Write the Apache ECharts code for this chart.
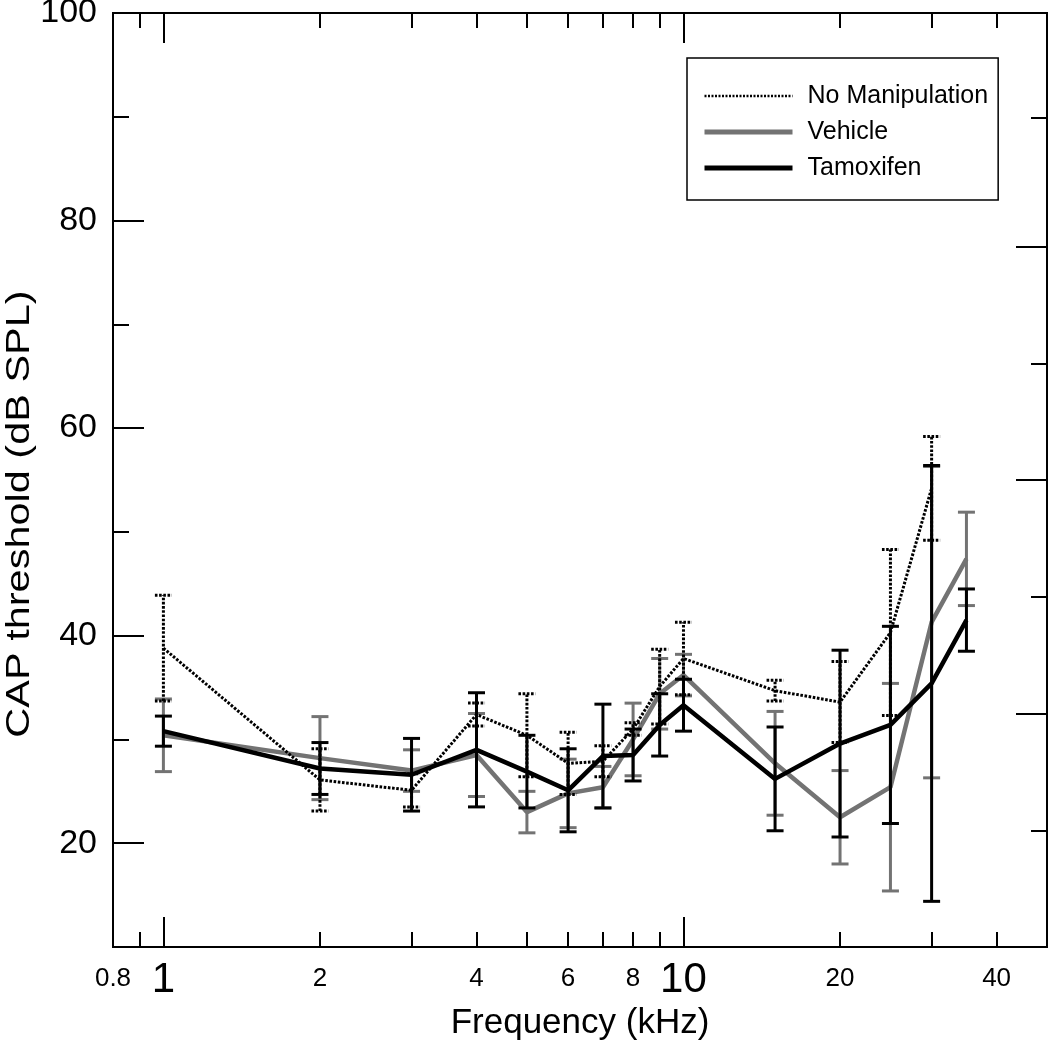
<!DOCTYPE html>
<html>
<head>
<meta charset="utf-8">
<script src="https://cdn.jsdelivr.net/npm/echarts@6/dist/echarts.min.js"></script>
<style>
html,body{margin:0;padding:0;background:#fff;}
#chart{width:1050px;height:1041px;}
</style>
</head>
<body>
<div id="chart"></div>
<script>
// ---- data ----
const freqs = [1, 2, 3, 4, 5, 6, 7, 8, 9, 10, 15, 20, 25, 30, 35];

const noManipMean = [38.8, 26.1, 25.1, 32.4, 30.4, 27.7, 27.9, 31.0, 35.1, 37.8, 34.7, 33.6, 40.3, 54.2];
const noManipErr  = [5.1, 3.0, 1.6, 1.1, 4.0, 3.0, 1.5, 0.6, 3.6, 3.5, 1.0, 3.9, 8.0, 5.0];

const vehicleMean = [30.4, 28.2, 27.0, 28.5, 23.0, 24.8, 25.4, 30.0, 34.4, 36.2, 27.7, 22.5, 25.4, 41.3, 47.4];
const vehicleErr  = [3.5, 4.0, 2.0, 4.0, 2.0, 3.3, 2.0, 3.5, 3.4, 2.0, 5.0, 4.5, 10.0, 15.0, 4.5];

const tamoxMean = [30.8, 27.2, 26.6, 29.0, 26.9, 25.1, 28.4, 28.5, 31.4, 33.3, 26.2, 29.6, 31.4, 35.4, 41.5];
const tamoxErr  = [1.45, 2.5, 3.5, 5.5, 3.5, 4.0, 5.0, 2.5, 3.0, 2.5, 5.0, 9.0, 9.5, 21.0, 3.0];

const xMinorTicks = [0.9, 2, 3, 4, 5, 6, 7, 8, 9, 20, 30, 40];
const xMajorTicks = [1, 10];
const xTickLabels = [0.8, 1, 2, 4, 6, 8, 10, 20, 40];
const yMajorTicks = [20, 40, 60, 80];
const yMinorTicks = [30, 50, 70, 90];
const yTickLabels = [20, 40, 60, 80, 100];
const rightMajorTicks = [2, 4, 6];
const rightMinorTicks = [1, 3, 5, 7.1];

const seriesNames = ['No Manipulation', 'Vehicle', 'Tamoxifen'];
const xTitle = 'Frequency (kHz)';
const yTitle = 'CAP threshold (dB SPL)';

// ---- helpers ----
const FONT = 'Liberation Sans, Arial, Helvetica, sans-serif';
const GRAY = '#737373';

function pairs(means) { return means.map((m, i) => [freqs[i], m]); }
function errData(means, errs) { return means.map((m, i) => [freqs[i], m - errs[i], m + errs[i]]); }

function errRenderer(color, width, dash) {
  return function (params, api) {
    const x = api.value(0), lo = api.value(1), hi = api.value(2);
    const p1 = api.coord([x, lo]);
    const p2 = api.coord([x, hi]);
    const hw = 8.5;
    const style = { stroke: color, lineWidth: width, fill: null, lineDash: dash || null };
    return {
      type: 'group',
      children: [
        { type: 'line', shape: { x1: p1[0], y1: p1[1], x2: p2[0], y2: p2[1] }, style: style },
        { type: 'line', shape: { x1: p1[0] - hw, y1: p1[1], x2: p1[0] + hw, y2: p1[1] }, style: style },
        { type: 'line', shape: { x1: p2[0] - hw, y1: p2[1], x2: p2[0] + hw, y2: p2[1] }, style: style }
      ]
    };
  };
}

function fmtX(v) {
  const r = Math.round(v * 100) / 100;
  return (r === 1 || r === 10) ? '{big|' + r + '}' : '{sm|' + r + '}';
}

const axisLineStyle = { color: '#000', width: 2 };

function xAxisDef(position, ticks, len, withLabels) {
  const a = {
    type: 'log', logBase: 10, min: 0.8, max: 50, position: position,
    axisLine: { show: true, lineStyle: axisLineStyle },
    axisTick: { show: true, inside: true, length: len, customValues: ticks, lineStyle: { color: '#000', width: 2 } },
    axisLabel: { show: false },
    splitLine: { show: false }, minorTick: { show: false }
  };
  if (withLabels) {
    a.axisLabel = {
      show: true, customValues: xTickLabels, margin: 12, formatter: fmtX, color: '#000',
      fontFamily: FONT,
      rich: {
        big: { fontSize: 42, fontFamily: FONT, color: '#000', padding: [0, 0, 0, 0] },
        sm: { fontSize: 26, fontFamily: FONT, color: '#000', padding: [7, 0, 0, 0] }
      }
    };
    a.name = xTitle;
    a.nameLocation = 'middle';
    a.nameGap = 54;
    a.nameTextStyle = { fontSize: 35, fontFamily: FONT, color: '#000' };
  }
  return a;
}

function yAxisDef(position, min, max, ticks, len, labels) {
  const a = {
    type: 'value', min: min, max: max, position: position,
    axisLine: { show: true, lineStyle: axisLineStyle },
    axisTick: { show: true, inside: true, length: len, customValues: ticks, lineStyle: { color: '#000', width: 2 } },
    axisLabel: { show: false },
    splitLine: { show: false }
  };
  if (labels) {
    a.axisLabel = { show: true, customValues: labels, margin: 16, fontSize: 34, fontFamily: FONT, color: '#000' };
  }
  return a;
}

const chart = echarts.init(document.getElementById('chart'), null, { renderer: 'canvas' });

const legendLine = {
  'No Manipulation': { color: '#000', width: 2.5, type: [2, 1.5] },
  'Vehicle': { color: GRAY, width: 5 },
  'Tamoxifen': { color: '#000', width: 5 }
};

const option = {
  backgroundColor: '#fff',
  animation: false,
  grid: { left: 113, right: 3, top: 13, bottom: 94, containLabel: false, outerBoundsMode: 'none' },
  legend: {
    data: seriesNames.map(n => ({ name: n, lineStyle: legendLine[n], itemStyle: { opacity: 0 } })),
    orient: 'vertical',
    left: 687, top: 58,
    padding: [25, 10, 19, 15],
    itemWidth: 88, itemHeight: 14, itemGap: 10,
    borderColor: '#000', borderWidth: 1.5,
    itemStyle: { opacity: 0 },
    textStyle: { fontSize: 25, fontFamily: FONT, color: '#000', padding: [0, 0, 0, 10], lineHeight: 26 },
    selectedMode: false
  },
  graphic: [
    {
      type: 'text', x: 20, y: 514, rotation: Math.PI / 2, scaleX: 1.22,
      style: { text: yTitle, fontSize: 34, fontFamily: FONT, fill: '#000', align: 'center', verticalAlign: 'middle' }
    }
  ],
  xAxis: [
    xAxisDef('bottom', xMinorTicks, 15, true),
    xAxisDef('bottom', xMajorTicks, 30, false),
    xAxisDef('top', xMinorTicks, 15, false),
    xAxisDef('top', xMajorTicks, 30, false)
  ],
  yAxis: [
    yAxisDef('left', 10, 100, yMajorTicks, 31, yTickLabels),
    yAxisDef('left', 10, 100, yMinorTicks, 16, null),
    yAxisDef('right', 0, 8, rightMajorTicks, 31, null),
    yAxisDef('right', 0, 8, rightMinorTicks, 16, null)
  ],
  series: [
    {
      name: 'Vehicle err', type: 'custom', xAxisIndex: 0, yAxisIndex: 0,
      renderItem: errRenderer(GRAY, 3, null), encode: { x: 0, y: [1, 2] },
      data: errData(vehicleMean, vehicleErr), z: 2, silent: true
    },
    {
      name: 'Vehicle', type: 'line', xAxisIndex: 0, yAxisIndex: 0,
      data: pairs(vehicleMean), symbol: 'none', z: 3,
      lineStyle: { color: GRAY, width: 4.5 }, itemStyle: { color: GRAY }
    },
    {
      name: 'Tamoxifen err', type: 'custom', xAxisIndex: 0, yAxisIndex: 0,
      renderItem: errRenderer('#000', 3, null), encode: { x: 0, y: [1, 2] },
      data: errData(tamoxMean, tamoxErr), z: 4, silent: true
    },
    {
      name: 'Tamoxifen', type: 'line', xAxisIndex: 0, yAxisIndex: 0,
      data: pairs(tamoxMean), symbol: 'none', z: 5,
      lineStyle: { color: '#000', width: 4.5 }, itemStyle: { color: '#000' }
    },
    {
      name: 'No Manipulation err', type: 'custom', xAxisIndex: 0, yAxisIndex: 0,
      renderItem: errRenderer('#000', 3, [2.6, 1.6]), encode: { x: 0, y: [1, 2] },
      data: errData(noManipMean, noManipErr), z: 6, silent: true
    },
    {
      name: 'No Manipulation', type: 'line', xAxisIndex: 0, yAxisIndex: 0,
      data: pairs(noManipMean), symbol: 'none', z: 7,
      lineStyle: { color: '#000', width: 3, type: [2.6, 1.6] }, itemStyle: { color: '#000' }
    }
  ]
};
chart.setOption(option);
</script>
</body>
</html>
